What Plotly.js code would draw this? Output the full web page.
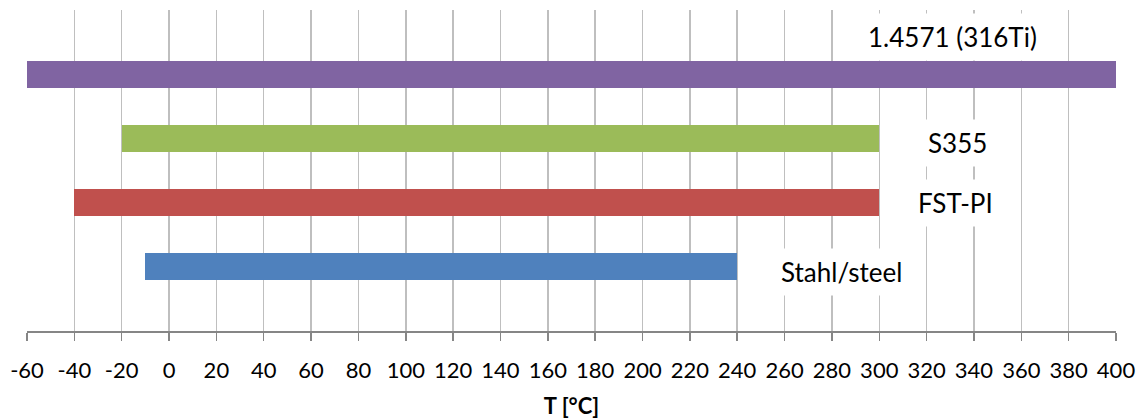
<!DOCTYPE html>
<html>
<head>
<meta charset="utf-8">
<script src="https://cdn.plot.ly/plotly-3.0.1.min.js"></script>
<style>html,body{margin:0;padding:0;background:#fff;}#chart{width:1142px;height:419px;}</style>
</head>
<body>
<div id="chart"></div>
<script>
// Data
var materials = ['Stahl/steel', 'FST-PI', 'S355', '1.4571 (316Ti)'];
var tMin = [-10, -40, -20, -60];
var tMax = [240, 300, 300, 400];
var barColors = ['#4F81BD', '#C0504D', '#9BBB59', '#8064A2'];
var tickVals = [-60,-40,-20,0,20,40,60,80,100,120,140,160,180,200,220,240,260,280,300,320,340,360,380,400];

var rows = materials.map(function(_, i){ return i + 1; });
var trace = {
  type: 'bar',
  orientation: 'h',
  y: rows,
  base: tMin,
  x: tMin.map(function(v, i){ return tMax[i] - v; }),
  width: 0.42,
  marker: {color: barColors, line: {width: 0}},
  hoverinfo: 'skip',
  showlegend: false
};

// label placement (layout only)
var labelPos = [
  {x: 284, y: 0.92},
  {x: 332, y: 2.0},
  {x: 333, y: 2.93},
  {x: 331, y: 4.58}
];
var annotations = materials.map(function(m, i){
  return {
    x: labelPos[i].x, y: labelPos[i].y, xref: 'x', yref: 'y',
    text: m, showarrow: false,
    font: {family: 'Lato, "Open Sans", sans-serif', size: 26, color: '#000'},
    bgcolor: '#ffffff', borderpad: 7
  };
});

var layout = {
  width: 1142, height: 419,
  margin: {l: 27, r: 26, t: 10, b: 88},
  paper_bgcolor: '#fff', plot_bgcolor: '#fff',
  font: {family: 'Lato, "Open Sans", sans-serif', color: '#000'},
  xaxis: {
    range: [-60, 400],
    tickmode: 'array', tickvals: tickVals, ticktext: tickVals.map(String),
    showgrid: true, gridcolor: '#BFBFBF', gridwidth: 1.5,
    zeroline: false,
    showline: true, linecolor: '#868686', linewidth: 1.5,
    ticks: 'outside', ticklen: 8, tickcolor: '#868686', tickwidth: 1.5,
    ticklabelstandoff: 11,
    tickfont: {size: 22, color: '#000'},
    title: {text: '<b>T [°C]</b>', font: {size: 22, color: '#000'}, standoff: 17},
    fixedrange: true
  },
  yaxis: {
    range: [0, 5], showgrid: false, zeroline: false, showline: false,
    showticklabels: false, ticks: '', fixedrange: true
  },
  annotations: annotations,
  bargap: 0
};

Plotly.newPlot('chart', [trace], layout, {displayModeBar: false, staticPlot: true});
</script>
</body>
</html>
